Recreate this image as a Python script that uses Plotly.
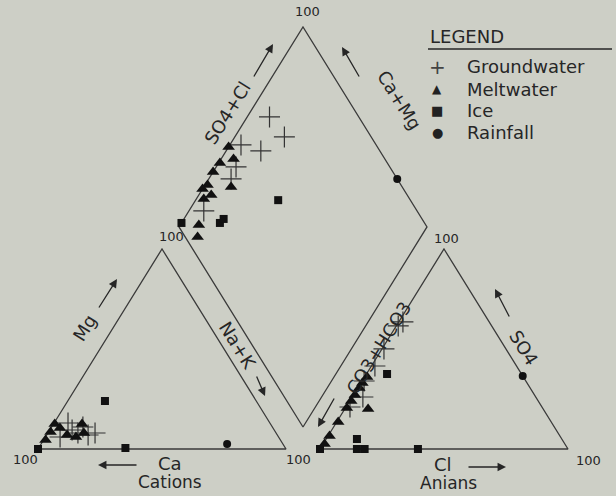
import numpy as np
import plotly.graph_objects as go

# ---------------- data (percent of meq) ----------------
# Cation triangle: Mg and Na+K (Ca = remainder)
gw_cat_mg = [13, 9.5, 6, 7, 8, 11, 8]
gw_cat_nak = [5.6, 9, 5.9, 16.7, 19, 12.6, 12.1]
mw_cat_mg = [12.5, 8.5, 4.5, 12.5, 8, 7, 10.5, 6]
mw_cat_nak = [0.5, 0.8, 0.8, 11.5, 14.5, 8.2, 3.6, 12.3]
ice_cat_mg = [0, 24, 0.5]
ice_cat_nak = [0, 15, 35]
rf_cat_mg = [2.5]
rf_cat_nak = [75]

# Anion triangle: SO4 and Cl (CO3+HCO3 = remainder)
gw_an_so4 = [63.5, 61.5, 50, 41.5, 34, 26, 21]
gw_an_cl = [1.7, 0.8, 0.8, 1.4, 0.8, 4.3, 1.6]
mw_an_so4 = [36, 33, 30.5, 27, 24, 20.5, 20, 13.5, 6.5, 2.5]
mw_an_cl = [1, 0.6, 0.6, 0.6, 0.6, 0.6, 9.4, 0.6, 0.6, 0.6]
ice_an_so4 = [0, 5, 0, 0, 0, 37.5]
ice_an_cl = [0, 12.4, 14.9, 18, 39.5, 8.3]
rf_an_so4 = [36.5]
rf_an_cl = [63.5]

# Diamond: Ca+Mg and SO4+Cl
gw_dm_camg = [91, 80, 95.5, 86, 92, 91, 94]
gw_dm_so4cl = [64, 65, 45.5, 52, 38, 33, 14]
mw_dm_camg = [100, 95, 99.5, 100, 99, 100, 95, 97, 89, 92.5, 90]
mw_dm_so4cl = [40, 39, 32.5, 27.5, 22, 19, 21, 17, 31, 8.5, 5]
ice_dm_camg = [100, 84.5, 84, 66.7]
ice_dm_so4cl = [2, 17.5, 20, 46.7]
rf_dm_camg = [24]
rf_dm_so4cl = [100]

series_names = ["Groundwater", "Meltwater", "Ice", "Rainfall"]
legend_glyphs = ["+", "\u25B2", "\u25A0", "\u25CF"]

# ---------------- geometry ----------------
H = np.sqrt(3) / 2
G = 0.137          # horizontal gap between triangles
UB = 1 + G / 2     # diamond bottom vertex
VB = 0.0952

W, HT = 616, 496
X0, S = 38, 248
Y0, V = 449, 231
xr = [(0 - X0) / S, (W - X0) / S]
yr = [(Y0 - HT) / V, Y0 / V]


def cation_xy(mg, nak):
    mg = np.asarray(mg) / 100
    nak = np.asarray(nak) / 100
    return nak + mg / 2, mg * H


def anion_xy(so4, cl):
    so4 = np.asarray(so4) / 100
    cl = np.asarray(cl) / 100
    return 1 + G + cl + so4 / 2, so4 * H


def diamond_xy(camg, so4cl):
    a = np.asarray(camg) / 100
    b = np.asarray(so4cl) / 100
    return UB + (b - a) / 2, VB + (a + b) * H


BG = "#cdcfc6"
LINE = "#3a3a3a"
INK = "#262626"
FONT = "DejaVu Sans"

fig = go.Figure()

# outlines
outlines = [
    ([0, 1, 0.5, 0], [0, 0, H, 0]),
    ([1 + G, 2 + G, 1.5 + G, 1 + G], [0, 0, H, 0]),
    ([UB, UB - 0.5, UB, UB + 0.5, UB], [VB, VB + H, VB + 2 * H, VB + H, VB]),
]
for ox, oy in outlines:
    fig.add_trace(go.Scatter(x=ox, y=oy, mode="lines", line=dict(color=LINE, width=1.3),
                             showlegend=False, hoverinfo="skip"))

styles = {
    "Groundwater": dict(symbol="cross-thin-open", size=15, color="#333333", line=dict(width=1.2, color="#333333")),
    "Meltwater": dict(symbol="triangle-up", size=11, color="#111111"),
    "Ice": dict(symbol="square", size=8, color="#111111"),
    "Rainfall": dict(symbol="circle", size=8, color="#111111"),
}

data = {
    "Groundwater": (gw_cat_mg, gw_cat_nak, gw_an_so4, gw_an_cl, gw_dm_camg, gw_dm_so4cl),
    "Meltwater": (mw_cat_mg, mw_cat_nak, mw_an_so4, mw_an_cl, mw_dm_camg, mw_dm_so4cl),
    "Ice": (ice_cat_mg, ice_cat_nak, ice_an_so4, ice_an_cl, ice_dm_camg, ice_dm_so4cl),
    "Rainfall": (rf_cat_mg, rf_cat_nak, rf_an_so4, rf_an_cl, rf_dm_camg, rf_dm_so4cl),
}

for name in series_names:
    cmg, cnak, aso4, acl, dcamg, dso4cl = data[name]
    cx, cy = cation_xy(cmg, cnak)
    ax_, ay_ = anion_xy(aso4, acl)
    dx, dy = diamond_xy(dcamg, dso4cl)
    xs = np.concatenate([cx, ax_, dx])
    ys = np.concatenate([cy, ay_, dy])
    fig.add_trace(go.Scatter(x=xs, y=ys, mode="markers", name=name, marker=styles[name],
                             showlegend=False))


def P(x, y):
    return x / W, 1 - y / HT


ann = []


def label(text, x, y, size=18, angle=0, xanchor="center", color=INK):
    px, py = P(x, y)
    ann.append(dict(text=text, x=px, y=py, xref="paper", yref="paper", showarrow=False,
                    textangle=angle, xanchor=xanchor, yanchor="middle",
                    font=dict(family=FONT, size=size, color=color)))


def arrow(tail, head):
    hx, hy = P(*head)
    ann.append(dict(text="", x=hx, y=hy, xref="paper", yref="paper", showarrow=True,
                    ax=tail[0] - head[0], ay=tail[1] - head[1],
                    arrowhead=2, arrowsize=1.3, arrowwidth=1.3, arrowcolor=INK))


# "100" labels
for (x, y) in [(307, 12), (171, 237), (446, 238), (25, 459), (298, 459), (588, 460)]:
    label("100", x, y, size=13)

# axis labels
label("SO4+Cl", 228, 113, angle=-58)
arrow((253, 78), (273, 44))
label("Ca+Mg", 400, 100, angle=58)
arrow((360, 78), (342, 47))
label("Mg", 84, 328, angle=-58)
arrow((98, 309), (117, 279))
label("Na+K", 238, 345, angle=58)
arrow((256, 375), (265, 396))
label("Ca", 170, 463)
arrow((138, 465), (98, 465))
label("Cations", 170, 482, size=17)
label("Cl", 443, 464)
arrow((467, 467), (506, 467))
label("Anians", 448, 483, size=17)
label("SO4", 524, 347, angle=58)
arrow((510, 318), (495, 289))
label("CO3+HCO3", 378, 348, angle=-58)
arrow((335, 397), (318, 427))

# legend (header, underline, glyph + name rows)
label("LEGEND", 428, 37, size=18, xanchor="left")
legend_rows = [67, 89, 111, 133]
glyph_sizes = [20, 12, 13, 13]
glyph_colors = ["#444444", "#222222", "#222222", "#222222"]
for name, glyph, gs, gc, ry in zip(series_names, legend_glyphs, glyph_sizes, glyph_colors, legend_rows):
    label(glyph, 437, ry, size=gs, color=gc)
    label(name, 465, ry, size=18, xanchor="left")

fig.update_layout(
    width=W, height=HT, autosize=False,
    margin=dict(l=0, r=0, t=0, b=0),
    paper_bgcolor=BG, plot_bgcolor=BG,
    xaxis=dict(range=xr, visible=False, fixedrange=True),
    yaxis=dict(range=yr, visible=False, fixedrange=True),
    showlegend=False,
    annotations=ann,
    shapes=[dict(type="line", xref="paper", yref="paper",
                 x0=428 / W, x1=612 / W, y0=1 - 49 / HT, y1=1 - 49 / HT,
                 line=dict(color=INK, width=1.3))],
)

fig.write_html(
    "out.html",
    config={"displayModeBar": False},
    post_script="document.body.style.margin='0';document.body.style.background='%s';" % BG,
)
